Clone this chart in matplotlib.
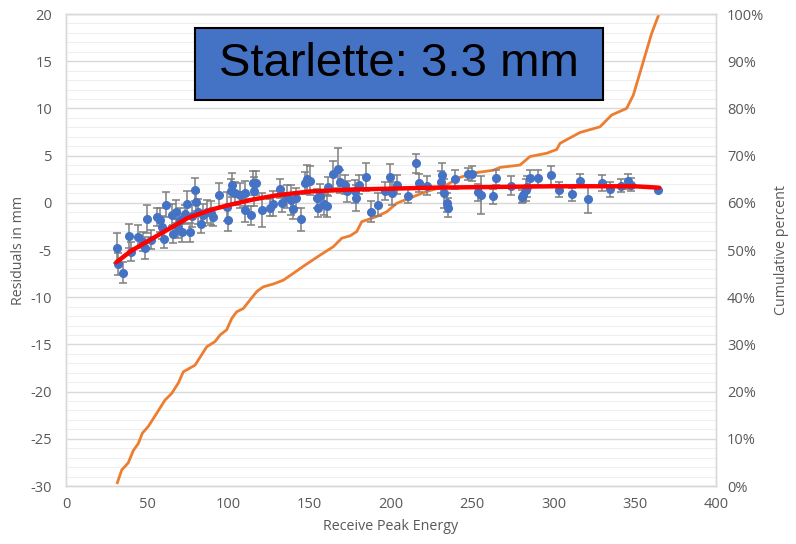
import matplotlib
matplotlib.use("Agg")
import matplotlib.pyplot as plt
from matplotlib.patches import Rectangle
from matplotlib.ticker import MultipleLocator, FuncFormatter
import numpy as np

# ---- residual points (Receive Peak Energy, residual mm, error bar half-length) ----
energy = [31.6, 32.2, 35.3, 39.0, 40.0, 44.0, 47.6, 48.6, 50.0, 52.3,
          55.8, 57.8, 58.9, 60.5, 61.3, 65.0, 66.0, 67.5, 68.7, 70.2,
          71.6, 73.2, 74.3, 76.3, 77.7, 79.4, 80.0, 81.4, 82.9, 84.5,
          86.6, 89.2, 90.6, 94.2, 98.9, 99.9, 101.5, 102.0, 104.0, 107.0,
          110.0, 110.2, 114.0, 115.0, 115.7, 117.0, 120.4, 125.5, 127.2, 131.7,
          132.7, 136.2, 138.2, 139.5, 141.5, 144.4, 147.0, 148.5, 150.2, 154.3,
          155.3, 156.3, 158.8, 160.8, 161.4, 164.1, 167.6, 168.6, 171.7, 173.1,
          177.8, 178.5, 180.5, 184.4, 187.5, 192.2, 196.3, 199.4, 200.4, 203.5,
          210.7, 215.4, 217.4, 222.4, 230.6, 231.6, 232.8, 234.2, 235.3, 239.4,
          247.6, 249.6, 253.7, 255.2, 262.6, 264.6, 273.6, 280.4, 281.4, 282.9,
          283.9, 285.5, 290.6, 298.5, 303.4, 311.6, 316.3, 321.0, 329.6, 334.8,
          341.5, 346.0, 347.5, 364.5]
residual = [-4.8, -6.5, -7.4, -3.5, -5.2, -3.6, -4.1, -4.8, -1.7, -3.9,
            -1.5, -1.8, -2.6, -3.8, -0.2, -1.3, -3.3, -0.95, -2.7, -1.8,
            -3.1, -1.2, -0.1, -3.1, -1.4, 1.4, 0.1, -0.95, -2.2, -1.3,
            -0.95, -1.1, -1.5, 0.8, -0.4, -1.8, 1.2, 1.9, 1.0, 0.8,
            -0.8, 1.0, -1.3, 2.1, 1.2, 2.1, -0.75, -0.5, -0.1, 1.5,
            0.0, 0.65, 0.3, -0.7, 0.5, -1.75, 2.1, 2.5, 2.35, 0.5,
            -0.55, 0.7, -0.15, -0.35, 1.7, 3.0, 3.6, 2.25, 1.9, 1.2,
            1.2, 0.5, 1.9, 2.7, -0.95, -0.2, 1.25, 2.7, 1.0, 1.9,
            0.75, 4.2, 2.1, 1.8, 2.2, 2.95, 1.0, 0.0, -0.5, 2.5,
            3.05, 3.1, 1.1, 0.85, 0.7, 2.65, 1.8, 0.65, 0.85, 1.35,
            1.7, 2.65, 2.65, 2.9, 1.4, 0.9, 2.35, 0.4, 2.1, 1.45,
            1.8, 2.3, 1.9, 1.4]
err = [1.6, 1.2, 1.1, 1.3, 1.0, 1.2, 1.0, 1.2, 1.5, 1.0,
       1.0, 1.3, 1.2, 1.0, 1.3, 1.2, 1.0, 1.2, 1.0, 1.2,
       1.0, 1.0, 1.3, 1.0, 1.2, 1.2, 1.0, 1.3, 1.0, 1.2,
       1.2, 1.3, 1.0, 1.3, 1.5, 1.2, 1.3, 1.3, 1.2, 1.3,
       1.2, 1.3, 1.0, 1.3, 1.5, 1.3, 1.8, 0.9, 1.3, 1.0,
       1.0, 1.2, 1.6, 1.0, 1.1, 1.2, 1.2, 1.5, 1.5, 1.0,
       1.0, 1.3, 1.1, 1.2, 1.0, 1.4, 2.2, 1.2, 1.0, 1.1,
       1.2, 1.4, 1.0, 1.5, 1.1, 1.2, 1.0, 1.4, 1.2, 1.0,
       0.8, 1.0, 1.0, 1.0, 1.2, 1.3, 1.5, 1.0, 1.0, 1.0,
       0.6, 0.8, 0.9, 2.0, 0.8, 0.8, 1.0, 0.7, 0.8, 1.2,
       1.1, 0.8, 0.8, 1.0, 0.8, 0.7, 0.7, 1.5, 0.8, 0.8,
       0.7, 0.8, 0.7, 0.0]
assert len(energy) == len(residual) == len(err)

# ---- red trend line ----
fit_energy = [31, 40, 50, 60, 75, 90, 100, 115, 130, 150, 175, 200, 225, 250,
              275, 300, 325, 350, 365]
fit_residual = [-6.3, -5.1, -4.1, -3.1, -1.6, -0.7, -0.25, 0.35, 0.8, 1.2, 1.4,
                1.5, 1.6, 1.65, 1.7, 1.75, 1.75, 1.75, 1.6]

# ---- orange cumulative percent ----
cum_energy = [31.6, 34.3, 38.3, 41.4, 44.5, 47.0, 50.6, 55.8, 60.9, 65.0, 69.1,
              72.2, 79.4, 86.6, 91.7, 94.8, 98.9, 102.0, 105.0, 109.1, 113.2,
              117.4, 121.4, 127.6, 133.7, 140.9, 147.1, 156.3, 164.5, 169.7,
              174.8, 178.9, 182.0, 191.2, 197.4, 203.5, 213.7, 222.0, 232.2,
              242.5, 252.7, 263.0, 267.1, 279.4, 285.5, 295.8, 302.0, 304.0,
              316.3, 328.6, 335.8, 345.0, 349.1, 354.3, 360.4, 364.9]
cum_percent = [0.7, 3.4, 4.9, 7.5, 9.0, 11.2, 12.6, 15.4, 18.2, 19.6, 21.8,
               24.2, 25.6, 29.5, 30.6, 32.0, 33.1, 35.5, 36.9, 37.6, 39.4,
               41.2, 42.2, 42.8, 43.6, 45.3, 46.8, 48.9, 50.7, 52.5,
               53.0, 53.9, 56.0, 57.1, 58.1, 59.9, 61.3, 62.4, 63.4,
               65.4, 66.4, 66.9, 67.5, 68.0, 69.8, 70.5, 71.3, 72.6,
               74.9, 76.1, 78.6, 80.0, 82.8, 88.8, 95.9, 100.0]

title_text = "Starlette: 3.3 mm"
x_label = "Receive Peak Energy"
y_label = "Residuals in mm"
y2_label = "Cumulative percent"

TICK = "#595959"
GRID = "#D9D9D9"
MINOR = "#EFEFEF"
BLUE = "#4472C4"
ORANGE = "#ED7D31"

plt.rcParams['font.family'] = ['Open Sans', 'DejaVu Sans']
plt.rcParams['axes.unicode_minus'] = False

fig = plt.figure(figsize=(7.96, 5.44), dpi=100)
ax = fig.add_axes([66/796, 1-486/544, 650/796, 472/544])
ax2 = ax.twinx()

# primary axes above secondary so orange line sits under the points;
# gridlines are drawn on the secondary (bottom) axes
ax.set_zorder(ax2.get_zorder() + 1)
ax.patch.set_visible(False)

ax.set_xlim(0, 400)
ax.set_ylim(-30, 20)
ax2.set_ylim(0, 100)

ax.xaxis.set_major_locator(MultipleLocator(50))
ax.yaxis.set_major_locator(MultipleLocator(5))
ax2.yaxis.set_major_locator(MultipleLocator(10))
ax2.yaxis.set_minor_locator(MultipleLocator(2))
ax2.yaxis.set_major_formatter(FuncFormatter(lambda v, p: f"{int(round(v))}%"))

ax.grid(False)
ax2.set_axisbelow(True)
ax2.yaxis.grid(True, which='minor', color=MINOR, lw=0.8)
ax2.yaxis.grid(True, which='major', color=GRID, lw=1.0)
ax2.xaxis.grid(True, which='major', color=GRID, lw=1.0)

for a in (ax, ax2):
    for s in a.spines.values():
        s.set_color(GRID)
        s.set_linewidth(1.0)
    a.tick_params(which='both', length=0, colors=TICK, labelsize=10.5)
ax.tick_params(axis='x', pad=8)
ax.tick_params(axis='y', pad=10)
ax2.tick_params(axis='y', pad=8)

ax2.plot(cum_energy, cum_percent, color=ORANGE, lw=2.0, zorder=2)

ax.errorbar(energy, residual, yerr=err, fmt='none', ecolor='#7F7F7F',
            elinewidth=1.1, capsize=3, capthick=1.1, zorder=2)
ax.plot(energy, residual, 'o', color=BLUE, ms=5.5, mec=BLUE, zorder=3)
ax.plot(fit_energy, fit_residual, color='#FF0000', lw=3.2, zorder=4,
        solid_capstyle='round')

ax.set_xlabel(x_label, color=TICK, fontsize=10.3, labelpad=5)
ax.set_ylabel(y_label, color=TICK, fontsize=10.3, labelpad=3)
ax2.set_ylabel(y2_label, color=TICK, fontsize=10.3, labelpad=7)

# title box
fig.patches.append(Rectangle((195/796, 1-100/544), 408/796, 72/544,
                             transform=fig.transFigure, facecolor=BLUE,
                             edgecolor='black', lw=1.5, zorder=10))
fig.text(399/796, 1-64/544, title_text, ha='center', va='center',
         fontsize=34, family=['Liberation Sans', 'DejaVu Sans'], color='black',
         zorder=11)

fig.savefig("out.png", dpi=100)
